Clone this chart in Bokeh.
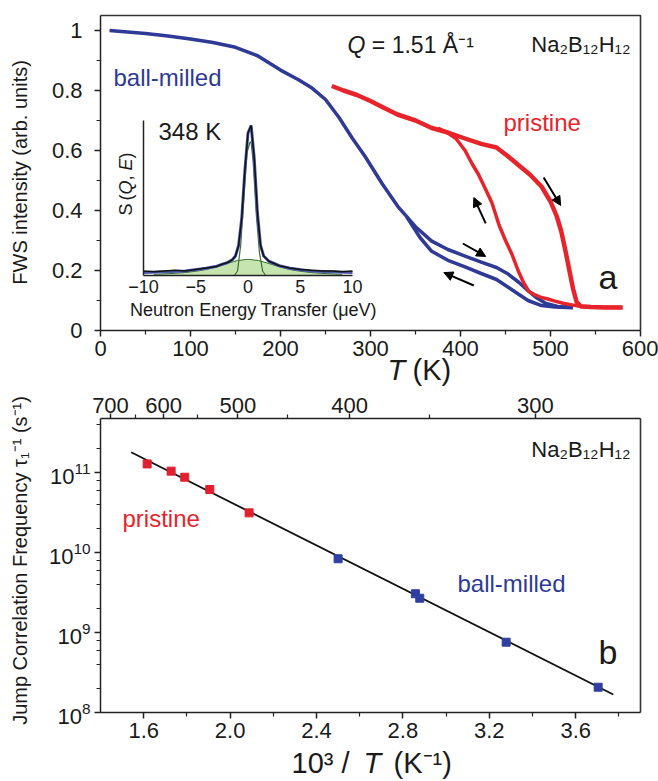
import math
from bokeh.plotting import figure
from bokeh.models import (Range1d, LinearAxis, LogAxis, FixedTicker, LogTicker,
                          CustomJSTickFormatter, PrintfTickFormatter, Label, Arrow, NormalHead,
                          ColumnDataSource)
from bokeh.layouts import column
from bokeh.embed import file_html
from bokeh.resources import INLINE

FONT = "Liberation Sans"
BLUE = "#2E3A96"
RED = "#E8242B"

# ---------------- panel a data ----------------
bm_heat_T = [10, 30, 50, 75, 100, 125, 150, 175, 200, 220, 235, 250, 265, 280, 294, 313, 331, 350,
             368, 386, 405, 423, 440, 453, 465, 475, 485, 495, 508, 525]
bm_heat_I = [1.0, 0.995, 0.99, 0.982, 0.972, 0.96, 0.944, 0.915, 0.868, 0.836, 0.808, 0.77, 0.71,
             0.64, 0.58, 0.489, 0.411, 0.346, 0.298, 0.27, 0.248, 0.228, 0.21, 0.188, 0.16, 0.133,
             0.108, 0.09, 0.08, 0.078]
bm_cool_T = [525, 505, 490, 475, 465, 453, 440, 423, 405, 386, 368, 355, 340]
bm_cool_I = [0.076, 0.078, 0.083, 0.1, 0.12, 0.144, 0.17, 0.19, 0.212, 0.234, 0.264, 0.31, 0.38]

pr_heat_T = [257, 270, 285, 300, 313, 330, 350, 368, 386, 405, 423, 440, 453, 465, 477, 490, 500,
             507, 512, 517, 521, 525, 529, 534, 545, 560, 580]
pr_heat_I = [0.815, 0.8, 0.785, 0.765, 0.745, 0.72, 0.7, 0.675, 0.66, 0.64, 0.622, 0.61, 0.58,
             0.55, 0.52, 0.48, 0.43, 0.38, 0.33, 0.26, 0.2, 0.14, 0.095, 0.08, 0.078, 0.077, 0.077]
pr_cool_T = [580, 545, 530, 515, 505, 497, 490, 482, 476, 470, 464, 457, 450, 443, 435, 428, 420,
             413, 405, 395, 385, 375]
pr_cool_I = [0.077, 0.079, 0.082, 0.09, 0.098, 0.105, 0.11, 0.12, 0.13, 0.16, 0.2, 0.255, 0.3,
             0.35, 0.425, 0.47, 0.52, 0.555, 0.6, 0.64, 0.66, 0.675]

arrow_T0 = [492.4, 428.0, 402.6, 414.8]
arrow_I0 = [0.51, 0.357, 0.29, 0.15]
arrow_T1 = [511.3, 414.8, 428.0, 381.5]
arrow_I1 = [0.417, 0.443, 0.247, 0.193]

T_ticks = [0, 100, 200, 300, 400, 500, 600]
T_minor = [50, 150, 250, 350, 450, 550]
I_ticks = [0, 0.2, 0.4, 0.6, 0.8, 1]
I_minor = [0.1, 0.3, 0.5, 0.7, 0.9]

# inset (348 K spectrum)
E_data = [-10, -9, -8, -7, -6, -5, -4, -3, -2.5, -2, -1.5, -1.2, -0.9, -0.6, -0.3, 0, 0.3, 0.6,
          0.9, 1.2, 1.5, 2, 2.5, 3, 4, 5, 6, 7, 8, 9, 10]
S_data = [0.03, 0.025, 0.03, 0.035, 0.03, 0.04, 0.05, 0.06, 0.075, 0.085, 0.105, 0.13, 0.2, 0.38,
          0.7, 0.95, 1.0, 0.78, 0.42, 0.2, 0.13, 0.095, 0.08, 0.065, 0.05, 0.04, 0.035, 0.03,
          0.03, 0.025, 0.03]
E_fit = [-10, -6, -4, -3, -2, -1.5, -1.2, -0.9, -0.6, -0.3, 0, 0.3, 0.6, 0.9, 1.2, 1.5, 2, 3, 4, 6, 10]
S_fit = [0.02, 0.03, 0.048, 0.062, 0.085, 0.105, 0.13, 0.2, 0.38, 0.7, 0.95, 1.0, 0.78, 0.42, 0.2,
         0.13, 0.095, 0.065, 0.048, 0.03, 0.02]
E_narrow = [-1.3, -1.0, -0.7, -0.4, -0.1, 0.2, 0.3, 0.5, 0.8, 1.1, 1.4, 1.7]
S_narrow = [0, 0.03, 0.2, 0.52, 0.82, 0.89, 0.89, 0.75, 0.4, 0.15, 0.03, 0]
E_broad = [-9, -7, -6, -5, -4, -3, -2, -1, 0, 1, 2, 3, 4, 5, 6, 7, 9]
S_broad = [0.008, 0.014, 0.02, 0.028, 0.04, 0.058, 0.08, 0.1, 0.108, 0.1, 0.08, 0.058, 0.04, 0.028,
           0.02, 0.014, 0.008]
E_ticks = [-10, -5, 0, 5, 10]

# ---------------- panel b data ----------------
pr_invT = [1.616, 1.727, 1.790, 1.906, 2.088]
pr_rate = [1.28e11, 1.04e11, 8.73e10, 6.13e10, 3.13e10]
bm_invT = [2.500, 2.858, 2.878, 3.278, 3.704]
bm_rate = [8.35e9, 3.05e9, 2.68e9, 7.56e8, 2.07e8]
fit_invT = [1.542, 3.774]
fit_rate = [1.79e11, 1.68e8]
invT_ticks = [1.6, 2.0, 2.4, 2.8, 3.2, 3.6]
invT_minor = [1.8, 2.2, 2.6, 3.0, 3.4, 3.8]
temp_ticks = [700, 600, 500, 400, 300]
temp_minor = [650, 550, 450, 350]

# axis extents (the boxes) of the two panels
A_X = (0, 600)
A_Y = (0, 1.05)
B_X = (1.4, 3.9)
B_Y = (1e8, 10 ** 11.675)
B_TOP = (1.3838, 3.8042)   # top temperature axis span, in 1000/T units


def style_axis(ax, size="22px"):
    ax.axis_line_width = 1.5
    ax.axis_line_color = "#222222"
    ax.major_tick_line_color = "#222222"
    ax.minor_tick_line_color = "#222222"
    ax.major_tick_line_width = 1.5
    ax.minor_tick_line_width = 1.2
    ax.major_tick_in = 0
    ax.major_tick_out = 6
    ax.minor_tick_in = 0
    ax.minor_tick_out = 4
    ax.major_label_text_font = FONT
    ax.major_label_text_font_size = size
    ax.major_label_text_color = "#1a1a1a"


def lab(p, x, y, text, size, color="#1a1a1a", align="left", baseline="middle",
        style="normal", angle=0, xr="default", yr="default"):
    p.add_layout(Label(x=x, y=y, text=text, text_font=FONT, text_font_size=size,
                       text_color=color, text_align=align, text_baseline=baseline,
                       text_font_style=style, angle=angle, x_range_name=xr, y_range_name=yr))


def bare_figure(w, h, xr, yr, **kw):
    p = figure(width=w, height=h, x_range=xr, y_range=yr, x_axis_location=None,
               y_axis_location=None, output_backend="svg", toolbar_location=None,
               min_border=0, min_border_left=0, min_border_right=0, min_border_top=0,
               min_border_bottom=0, **kw)
    p.grid.visible = False
    p.outline_line_color = None
    return p


# ================= panel a =================
# frame = whole canvas; box from (100,15) to (640,330) px: 0.9 px/K, 300 px/unit
p1 = bare_figure(658, 386, Range1d(-100 / 0.9, 600 + 18 / 0.9),
                 Range1d(-56 / 300, 1.05 + 15 / 300))

ya = LinearAxis(fixed_location=A_X[0], bounds=A_Y,
                ticker=FixedTicker(ticks=I_ticks, minor_ticks=I_minor),
                formatter=CustomJSTickFormatter(
                    code="return (tick == 0 || tick == 1) ? tick.toFixed(0) : tick.toFixed(1);"))
style_axis(ya)
ya.major_label_standoff = 12
p1.add_layout(ya, "left")
xa = LinearAxis(fixed_location=A_Y[0], bounds=A_X,
                ticker=FixedTicker(ticks=T_ticks, minor_ticks=T_minor))
style_axis(xa)
xa.major_label_standoff = 4
p1.add_layout(xa, "below")
p1.line([A_X[0], A_X[1], A_X[1]], [A_Y[1], A_Y[1], A_Y[0]], line_color="#333333", line_width=1.6)

p1.line(bm_cool_T, bm_cool_I, line_color=BLUE, line_width=3.5, line_join="round")
p1.line(bm_heat_T, bm_heat_I, line_color=BLUE, line_width=3.5, line_join="round")
p1.line(pr_cool_T, pr_cool_I, line_color=RED, line_width=3.5, line_join="round")
p1.line(pr_heat_T, pr_heat_I, line_color=RED, line_width=4.5, line_join="round")

arr_src = ColumnDataSource(dict(x0=arrow_T0, y0=arrow_I0, x1=arrow_T1, y1=arrow_I1))
p1.add_layout(Arrow(end=NormalHead(size=9, fill_color="black", line_color="black"),
                    source=arr_src, x_start="x0", y_start="y0", x_end="x1", y_end="y1",
                    line_width=2, line_color="black"))

# inset coordinate system: E = -10..10 -> 143..352 px, S = 0..1 -> 275..125 px
p1.extra_x_ranges = {"ix": Range1d(-10 - 143 / 10.45, 10 + 306 / 10.45)}
p1.extra_y_ranges = {"iy": Range1d(-111 / 150, 275 / 150)}
p1.varea(x=E_broad, y1=0, y2=S_broad, fill_color="#BFE1A6", fill_alpha=0.9,
         x_range_name="ix", y_range_name="iy")
p1.line(E_broad, S_broad, line_color="#3E6E2E", line_width=1, x_range_name="ix", y_range_name="iy")
p1.line(E_narrow, S_narrow, line_color="#3E6E2E", line_width=1.2, x_range_name="ix", y_range_name="iy")
p1.line(E_fit, S_fit, line_color="#4A58B0", line_width=3, x_range_name="ix", y_range_name="iy")
p1.line(E_data, S_data, line_color="#111111", line_width=1.5, x_range_name="ix", y_range_name="iy")

ix_axis = LinearAxis(x_range_name="ix", y_range_name="iy", fixed_location=0, bounds=(-10, 10),
                     ticker=FixedTicker(ticks=E_ticks, minor_ticks=[]))
style_axis(ix_axis, "18px")
ix_axis.major_tick_out = 0
ix_axis.minor_tick_out = 0
ix_axis.major_label_standoff = 4
p1.add_layout(ix_axis, "below")
iy_axis = LinearAxis(x_range_name="ix", y_range_name="iy", fixed_location=-10, bounds=(0, 1.033),
                     ticker=FixedTicker(ticks=[], minor_ticks=[]))
style_axis(iy_axis, "16px")
iy_axis.major_label_text_font_size = "0px"
p1.add_layout(iy_axis, "left")

lab(p1, 0.526, -0.233, "Neutron Energy Transfer (μeV)", "18px", align="center", xr="ix", yr="iy")
# rotated "S (Q, E)" with italic Q and E, pieces laid upward from its bottom
up = math.pi / 2
for txt, start_px, sty in [("S", 215, "normal"), ("(", 200, "normal"), ("Q", 194, "italic"),
                           (",", 180, "normal"), ("E", 170, "italic"), (")", 158, "normal")]:
    lab(p1, -11.72, (275 - start_px) / 150, txt, "18px", style=sty, angle=up, xr="ix", yr="iy")
lab(p1, -8.565, 0.957, "348 K", "24px", xr="ix", yr="iy")

# panel a texts
lab(p1, -88.9, 0.527, "FWS intensity (arb. units)", "20px", align="center", angle=up)
lab(p1, 274.4, 0.953, "Q", "23px", style="italic")
lab(p1, 301.5, 0.953, "= 1.51 Å⁻¹", "23px")
lab(p1, 588.9, 0.953, "Na₂B₁₂H₁₂", "22px", align="right")
lab(p1, 14.4, 0.843, "ball-milled", "24px", color=BLUE)
lab(p1, 447.8, 0.693, "pristine", "24px", color=RED)
lab(p1, 553.3, 0.18, "a", "34px")
lab(p1, 318.9, -0.13, "T", "29px", style="italic")
lab(p1, 346.7, -0.13, "(K)", "29px")

# ================= panel b =================
# frame = whole canvas; box from (100,32) to (640,326) px: 216 px/unit, 80 px/decade
p2 = bare_figure(658, 395, Range1d(1.4 - 100 / 216, 1.4 + 558 / 216),
                 Range1d(10 ** (11.675 - 363 / 80), 10 ** (11.675 + 32 / 80)), y_axis_type="log")

yb = LogAxis(fixed_location=B_X[0], bounds=B_Y, ticker=LogTicker())
style_axis(yb, "22px")
yb.major_label_standoff = 4
p2.add_layout(yb, "left")
xb = LinearAxis(fixed_location=B_Y[0], bounds=B_X,
                ticker=FixedTicker(ticks=invT_ticks, minor_ticks=invT_minor),
                formatter=PrintfTickFormatter(format="%.1f"))
style_axis(xb)
xb.major_label_standoff = 4
p2.add_layout(xb, "below")
p2.line([B_X[1], B_X[1]], [B_Y[0], B_Y[1]], line_color="#333333", line_width=1.6)

p2.extra_x_ranges = {"temp": Range1d(B_TOP[0] - 100 / 223.1, B_TOP[1] + 18 / 223.1)}
top_axis = LinearAxis(x_range_name="temp", fixed_location=B_Y[1], bounds=B_TOP,
                      ticker=FixedTicker(ticks=[1000.0 / t for t in temp_ticks],
                                         minor_ticks=[1000.0 / t for t in temp_minor]),
                      formatter=CustomJSTickFormatter(code="return Math.round(1000 / tick).toString();"))
style_axis(top_axis, "22px")
top_axis.major_tick_out = 5
top_axis.minor_tick_out = 4
top_axis.major_label_standoff = 1
p2.add_layout(top_axis, "above")

p2.line(fit_invT, fit_rate, line_color="#111111", line_width=1.8)
p2.scatter(pr_invT, pr_rate, marker="square", size=8, fill_color="#E02030", line_color="#E02030")
p2.scatter(bm_invT, bm_rate, marker="square", size=8, fill_color="#3040A0", line_color="#3040A0")

lab(p2, 1.0296, 10 ** 9.9, "Jump Correlation Frequency τ₁⁻¹ (s⁻¹)", "20px", align="center",
    angle=up)
lab(p2, 3.8537, 10 ** 11.2875, "Na₂B₁₂H₁₂", "22px", align="right")
lab(p2, 1.5019, 10 ** 10.425, "pristine", "24px", color=RED)
lab(p2, 3.0528, 10 ** 9.6125, "ball-milled", "24px", color=BLUE)
lab(p2, 3.7056, 10 ** 8.7625, "b", "34px")
lab(p2, 2.553, 10 ** 7.375, "10³ /", "29px", align="right")
lab(p2, 2.6176, 10 ** 7.375, "T", "29px", style="italic")
lab(p2, 2.7565, 10 ** 7.375, "(K⁻¹)", "29px")

layout = column(p1, p2, spacing=0)
open("out.html", "w").write(file_html(layout, INLINE))
